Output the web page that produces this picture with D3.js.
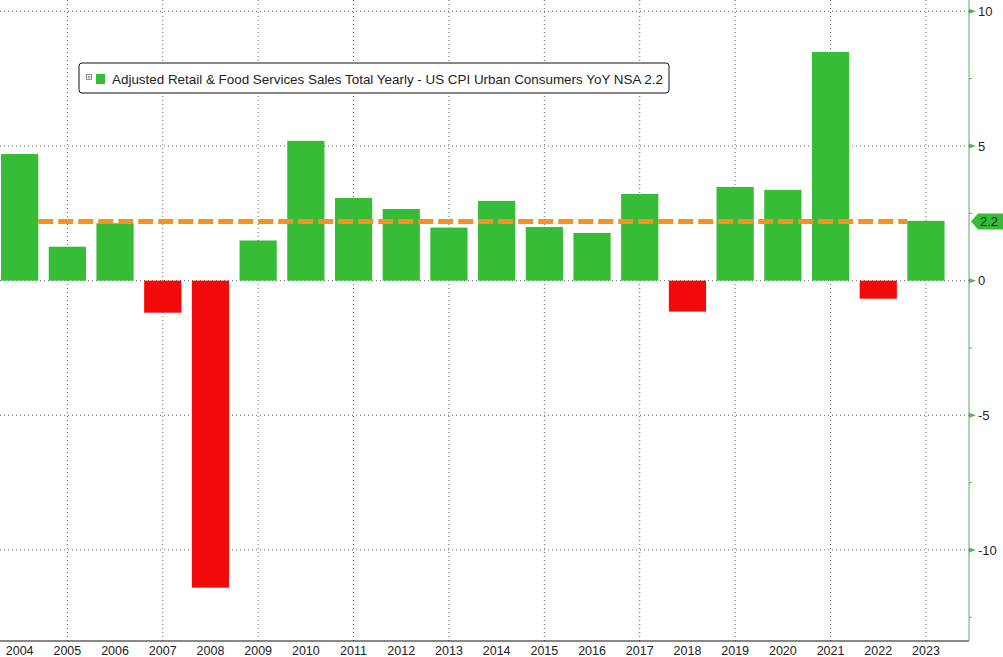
<!DOCTYPE html>
<html lang="en">
  <head>
    <meta charset="utf-8" />
    <title>Adjusted Retail & Food Services Sales Total Yearly</title>
    <script src="https://cdn.jsdelivr.net/npm/d3@7"></script>
    <style>
      body { margin: 0; background: #fff; }
      text { font-family: "Liberation Sans", Arial, sans-serif; fill: #222; }
    </style>
  </head>
  <body>
    <div id="chart"></div>
    <script type="text/javascript">
      // yearly values
      const years = ["2004", "2005", "2006", "2007", "2008", "2009", "2010", "2011", "2012", "2013",
                     "2014", "2015", "2016", "2017", "2018", "2019", "2020", "2021", "2022", "2023"];
      const sales = [4.70, 1.26, 2.13, -1.19, -11.40, 1.49, 5.19, 3.07, 2.66, 1.97,
                     2.96, 1.99, 1.77, 3.22, -1.15, 3.48, 3.37, 8.49, -0.67, 2.22];
      const average = 2.2;
      const yTicks = [10, 5, 0, -5, -10];
      const yMinorTicks = [7.5, 2.5, -2.5, -7.5, -12.5];
      const legendLabel = "Adjusted Retail & Food Services Sales Total Yearly - US CPI Urban Consumers YoY NSA 2.2";

      const width = 1003, height = 657;
      const axisX = 969, axisY = 641;
      const green = "#36bc36", red = "#f20a0a", orange = "#f39325", axisGreen = "#5aae5a";

      const svg = d3.select("#chart").append("svg")
        .attr("width", width)
        .attr("height", height);

      const x = d3.scaleBand()
        .domain(years)
        .range([-4.2, 949.8])
        .paddingInner(0.22)
        .paddingOuter(0.11);

      const y = d3.scaleLinear()
        .domain([-13.38, 10.42])
        .range([axisY, 0]);

      // dotted grid
      svg.append("g").selectAll("line")
        .data(yTicks)
        .join("line")
        .attr("x1", 0).attr("x2", axisX)
        .attr("y1", d => y(d)).attr("y2", d => y(d))
        .attr("stroke", "#666")
        .attr("stroke-dasharray", "1,3");

      svg.append("g").selectAll("line")
        .data(years.filter(d => +d % 2 === 1))
        .join("line")
        .attr("x1", d => x(d) + x.bandwidth() / 2).attr("x2", d => x(d) + x.bandwidth() / 2)
        .attr("y1", 0).attr("y2", axisY)
        .attr("stroke", "#666")
        .attr("stroke-dasharray", "1,3");

      // bars
      svg.append("g").selectAll("rect")
        .data(sales)
        .join("rect")
        .attr("x", (d, i) => x(years[i]))
        .attr("width", x.bandwidth())
        .attr("y", d => y(Math.max(0, d)))
        .attr("height", d => Math.abs(y(d) - y(0)))
        .attr("fill", d => d >= 0 ? green : red);

      // average line
      svg.append("line")
        .attr("x1", x(years[0]) + x.bandwidth())
        .attr("x2", x(years[years.length - 1]))
        .attr("y1", y(average)).attr("y2", y(average))
        .attr("stroke", orange)
        .attr("stroke-width", 5)
        .attr("stroke-dasharray", "15,5");

      // bottom axis
      svg.append("line")
        .attr("x1", 0).attr("x2", axisX)
        .attr("y1", axisY).attr("y2", axisY)
        .attr("stroke", "#111");

      svg.append("g").selectAll("text")
        .data(years)
        .join("text")
        .attr("x", d => x(d) + x.bandwidth() / 2)
        .attr("y", 655)
        .attr("text-anchor", "middle")
        .attr("font-size", "12.5px")
        .text(d => d);

      // right axis
      svg.append("line")
        .attr("x1", axisX).attr("x2", axisX)
        .attr("y1", 0).attr("y2", axisY)
        .attr("stroke", axisGreen);

      svg.append("g").selectAll("line")
        .data(yMinorTicks)
        .join("line")
        .attr("x1", axisX).attr("x2", axisX + 3)
        .attr("y1", d => y(d)).attr("y2", d => y(d))
        .attr("stroke", axisGreen);

      const yAxis = svg.append("g").selectAll("g")
        .data(yTicks)
        .join("g")
        .attr("transform", d => `translate(${axisX},${y(d)})`);
      yAxis.append("path")
        .attr("d", "M0,-2.5L7,0L0,2.5Z")
        .attr("fill", axisGreen);
      yAxis.append("text")
        .attr("x", 9)
        .attr("dy", "0.35em")
        .attr("font-size", "13px")
        .text(d => d < 0 ? "-" + Math.abs(d) : d);

      // last value tag
      const tag = svg.append("g").attr("transform", `translate(${axisX + 2},${y(average)})`);
      tag.append("path")
        .attr("d", "M0,0L7,-8L40,-8L40,8L7,8Z")
        .attr("fill", green);
      tag.append("text")
        .attr("x", 9)
        .attr("dy", "0.36em")
        .attr("font-size", "13px")
        .text(average.toFixed(1));

      // legend
      const legend = svg.append("g").attr("transform", "translate(79,63)");
      legend.append("rect")
        .attr("width", 590).attr("height", 30)
        .attr("rx", 3)
        .attr("fill", "#fff")
        .attr("stroke", "#111");
      legend.append("rect")
        .attr("x", 7.5).attr("y", 11.5)
        .attr("width", 5).attr("height", 5)
        .attr("fill", "none")
        .attr("stroke", "#777")
        .attr("stroke-width", 0.8);
      legend.append("line")
        .attr("x1", 8.5).attr("x2", 11.5).attr("y1", 14).attr("y2", 14)
        .attr("stroke", "#777").attr("stroke-width", 0.8);
      legend.append("line")
        .attr("x1", 10).attr("x2", 10).attr("y1", 12.5).attr("y2", 15.5)
        .attr("stroke", "#777").attr("stroke-width", 0.8);
      legend.append("rect")
        .attr("x", 17).attr("y", 11)
        .attr("width", 9).attr("height", 10)
        .attr("fill", green);
      legend.append("text")
        .attr("x", 33).attr("y", 21)
        .attr("font-size", "13.5px")
        .attr("textLength", 551)
        .attr("lengthAdjust", "spacingAndGlyphs")
        .text(legendLabel);
    </script>
  </body>
</html>
